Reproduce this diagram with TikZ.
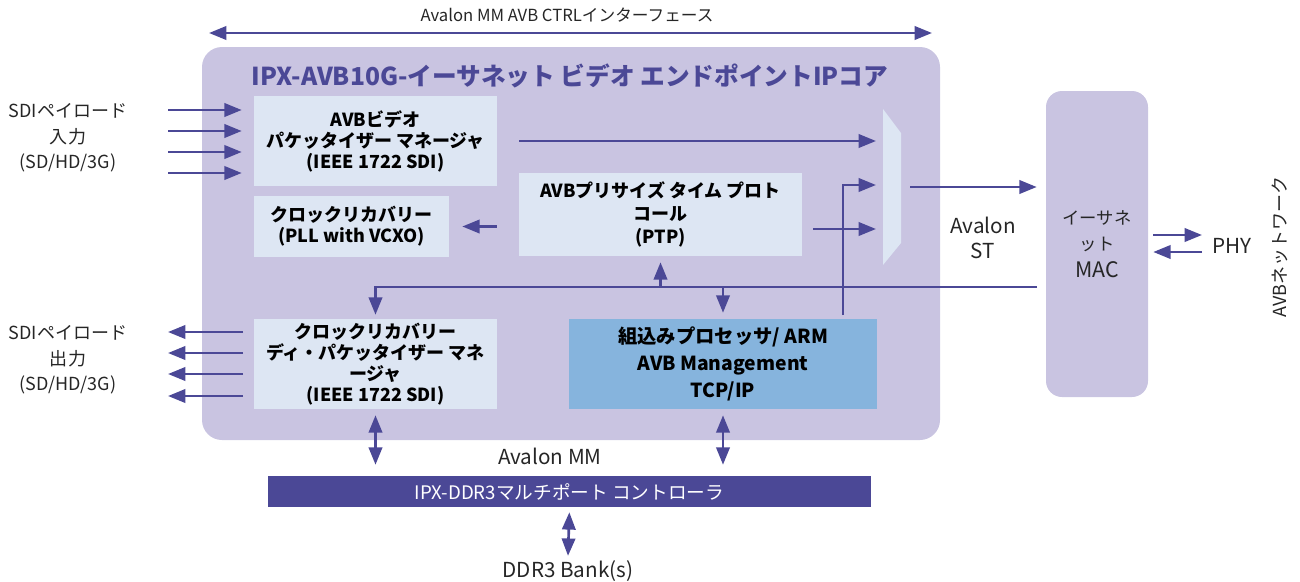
\documentclass[tikz,border=0pt]{standalone}
\usepackage{fontspec}
\setmainfont{Noto Sans CJK JP}
\usepackage{tikz}
\usetikzlibrary{arrows.meta}
\definecolor{avbpurple}{HTML}{4B4896}
\definecolor{corefill}{HTML}{C9C4E1}
\definecolor{blockfill}{HTML}{DDE6F3}
\definecolor{cpufill}{HTML}{86B4DD}

\begin{document}
\begin{tikzpicture}[
x=0.75pt, y=-0.75pt,
Blocks/.style={fill=blockfill, inner sep=0pt, align=center, font=\bfseries\fontsize{13.5}{15.75}\selectfont},
Links/.style={draw=avbpurple, line width=2pt, -{Triangle[length=13pt, width=10pt]}},
BiLinks/.style={draw=avbpurple, line width=2pt, {Triangle[length=13pt, width=10pt]}-{Triangle[length=13pt, width=10pt]}},
Labels/.style={align=center, text=black!85, font=\fontsize{13.5}{19}\selectfont},
BigLabels/.style={align=center, text=black!85, font=\fontsize{15.5}{19}\selectfont}
]
\useasboundingbox (0,0) rectangle (1300,582);

% IP core background and title
\node[fill=corefill, rounded corners=15pt, minimum width=553.5pt, minimum height=294.75pt] (Core) at (571,243.5) {};
\node[text=avbpurple, font=\bfseries\fontsize{18.5}{20}\selectfont] (Title) at (570,76) {IPX-AVB10G-イーサネット ビデオ エンドポイントIPコア};

% blocks
\node[Blocks, minimum width=182.25pt, minimum height=67.5pt] (Packetizer) at (375.5,141) {AVBビデオ\\パケッタイザー マネージャ\\(IEEE 1722 SDI)};
\node[Blocks, minimum width=146.25pt, minimum height=45.75pt] (ClockRec) at (351.5,226.5) {クロックリカバリー\\(PLL with VCXO)};
\node[Blocks, minimum width=212.25pt, minimum height=62.25pt, font=\bfseries\fontsize{13.5}{17}\selectfont] (PTP) at (660.5,214.5) {AVBプリサイズ タイム プロト\\コール\\(PTP)};
\node[Blocks, minimum width=182.25pt, minimum height=67.5pt] (Depacketizer) at (375.5,364) {クロックリカバリー\\ディ・パケッタイザー マネ\\ージャ\\(IEEE 1722 SDI)};
\node[Blocks, fill=cpufill, minimum width=231pt, minimum height=67.5pt, font=\bfseries\fontsize{14.5}{20}\selectfont] (CPU) at (723,364) {組込みプロセッサ/ ARM\\AVB Management\\TCP/IP};
\node[fill=corefill, rounded corners=12pt, minimum width=76.5pt, minimum height=229.5pt, align=center, text=black!85, font=\fontsize{13}{20}\selectfont] (MAC) at (1097,244) {イーサネ\\ット\\{\fontsize{16}{20}\selectfont MAC}};
\node[fill=avbpurple, text=white, minimum width=452.25pt, minimum height=23.25pt, inner sep=0pt, font=\fontsize{14}{15}\selectfont] (Ddr) at (569.5,491.5) {IPX-DDR3マルチポート コントローラ};

% multiplexer
\fill[blockfill] (883,109) -- (901,133) -- (901,243) -- (883,265) -- cycle;
\coordinate (MuxIn1) at (876,141);
\coordinate (MuxIn2) at (876,185);
\coordinate (MuxIn3) at (876,229);
\coordinate (MuxOut) at (910,187);

% labels
\node[Labels, font=\fontsize{12.5}{14}\selectfont] (CtrlLabel) at (567,15) {Avalon MM AVB CTRLインターフェース};
\node[Labels] (SdiInLabel) at (68,138) {SDIペイロード\\入力\\(SD/HD/3G)};
\node[Labels] (SdiOutLabel) at (68,360) {SDIペイロード\\出力\\(SD/HD/3G)};
\node[BigLabels] (StLabel) at (983,238) {Avalon\\ST};
\node[BigLabels] (MmLabel) at (550,456) {Avalon MM};
\node[BigLabels] (Banks) at (568,571) {DDR3 Bank(s)};
\node[BigLabels] (Phy) at (1232,246) {PHY};
\node[Labels, rotate=90] (Network) at (1280,247) {AVBネットワーク};

% connectors
\coordinate (CtrlL) at (209,33);
\coordinate (CtrlR) at (932,33);
\draw[BiLinks] (CtrlL) -- (CtrlR);

\foreach \i/\y in {1/110,2/131,3/152,4/173}{
  \coordinate (SdiIn\i) at (168,\y);
  \draw[Links, shorten >=9pt] (SdiIn\i) -- (SdiIn\i -| Packetizer.west);
}
\foreach \i/\y in {1/332,2/353,3/374,4/396}{
  \coordinate (SdiOut\i) at (168,\y);
  \draw[Links, shorten <=8pt] (SdiOut\i -| Depacketizer.west) -- (SdiOut\i);
}

\draw[Links, shorten <=16.5pt] (Packetizer.east) -- (MuxIn1);
\draw[Links, shorten <=16.5pt, shorten >=9.75pt] (PTP.west |- ClockRec.east) -- (ClockRec.east);
\draw[Links, shorten <=8.25pt] (PTP.east |- MuxIn3) -- (MuxIn3);
\coordinate (CpuTap) at (843,315);
\draw[Links] (CpuTap) |- (MuxIn2);
\draw[Links, shorten >=6.75pt] (MuxOut) -- (MuxOut -| MAC.west);

% shared bus
\coordinate (Bus) at (1037,287);
\draw[Links, shorten >=3pt] (Bus) -| (Depacketizer.north);
\draw[Links, shorten >=4.5pt] (PTP.south |- Bus) -- (PTP.south);
\draw[Links, shorten >=4.5pt] (CPU.north |- Bus) -- (CPU.north);

% memory side
\draw[BiLinks, shorten <=4.5pt, shorten >=8.25pt] (Depacketizer.south) -- (Depacketizer.south |- Ddr.north);
\draw[BiLinks, shorten <=4.5pt, shorten >=8.25pt] (CPU.south) -- (CPU.south |- Ddr.north);
\draw[BiLinks, shorten <=3.75pt] (Ddr.south) -- (Banks.north);

% PHY side
\coordinate (PhyTx) at (1202,235);
\coordinate (PhyRx) at (1202,252);
\draw[Links, shorten <=3.75pt] (MAC.east |- PhyTx) -- (PhyTx);
\draw[Links, shorten >=3.75pt] (PhyRx) -- (MAC.east |- PhyRx);

\end{tikzpicture}
\end{document}
